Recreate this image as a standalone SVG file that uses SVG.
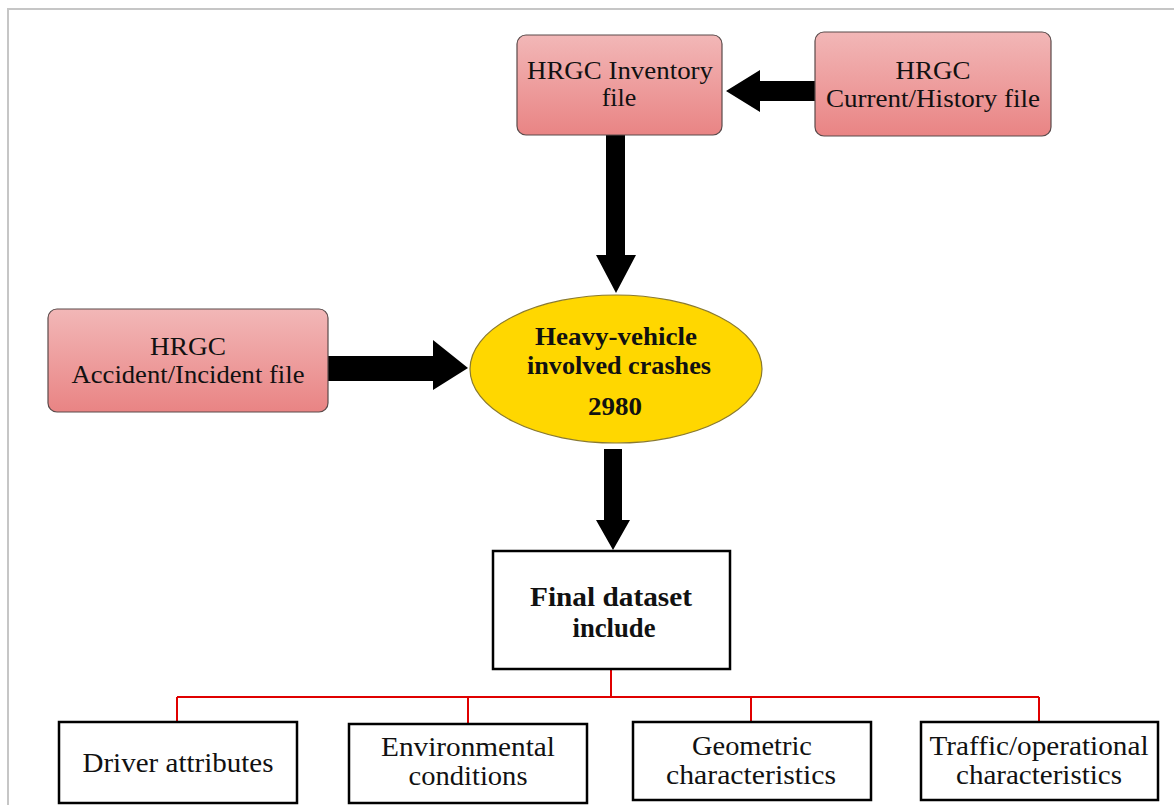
<svg xmlns="http://www.w3.org/2000/svg" width="1174" height="805" viewBox="0 0 1174 805">
<defs>
<linearGradient id="pink" x1="0" y1="0" x2="0" y2="1">
<stop offset="0" stop-color="#f2b7b7"/>
<stop offset="1" stop-color="#e98484"/>
</linearGradient>
<style>
.src{fill:url(#pink);stroke:#5a4a4a;stroke-width:1.2}
.box{fill:#fff;stroke:#000;stroke-width:2.5}
text{font-family:'Liberation Serif','DejaVu Serif',serif;font-size:26px;fill:#111;text-anchor:middle}
.b{font-weight:bold}
.s{font-size:28px}
.arr{fill:#000}
.red{stroke:#e00000;stroke-width:2;fill:none}
</style>
</defs>
<rect x="0" y="0" width="1174" height="805" fill="#fff"/>
<path d="M8 805 V9 H1174" fill="none" stroke="#c6c6c6" stroke-width="2"/>

<g id="connectors">
<path class="arr" d="M815 81 V101 H760 V112 L726 91 L760 70 V81 Z"/>
<path class="arr" d="M606 135 H625 V255 H636 L616 293 L596 255 H606 Z"/>
<path class="arr" d="M328 356 H433 V340 L468 368 L433 390 V381 H328 Z"/>
<path class="arr" d="M604 449 H622 V520 H630 L613 550 L596 520 H604 Z"/>
<path class="red" d="M611 669 V697 M177 697 H1039 M177 697 V722 M468 697 V724 M751 697 V722 M1039 697 V722"/>
</g>

<g id="inventory">
<rect class="src" x="517" y="35" width="205" height="100" rx="9"/>
<text x="620" y="79" textLength="186" lengthAdjust="spacingAndGlyphs">HRGC Inventory</text>
<text x="619" y="106">file</text>
</g>
<g id="history">
<rect class="src" x="815" y="32" width="236" height="104" rx="9"/>
<text x="933" y="79" textLength="75" lengthAdjust="spacingAndGlyphs">HRGC</text>
<text x="933" y="107" textLength="214" lengthAdjust="spacingAndGlyphs">Current/History file</text>
</g>
<g id="accident">
<rect class="src" x="48" y="309" width="280" height="103" rx="9"/>
<text x="188" y="355" textLength="76" lengthAdjust="spacingAndGlyphs">HRGC</text>
<text x="188" y="383" textLength="233" lengthAdjust="spacingAndGlyphs">Accident/Incident file</text>
</g>
<g id="crashes">
<ellipse cx="616" cy="369" rx="146" ry="74" fill="#ffd700" stroke="#8a7a30" stroke-width="1.2"/>
<text class="b" x="616" y="345" textLength="162" lengthAdjust="spacingAndGlyphs">Heavy-vehicle</text>
<text class="b" x="619" y="374" textLength="184" lengthAdjust="spacingAndGlyphs">involved crashes</text>
<text class="b" x="615" y="415" textLength="54" lengthAdjust="spacingAndGlyphs">2980</text>
</g>
<g id="final">
<rect class="box" x="493" y="551" width="237" height="118"/>
<text class="b s" x="611" y="606" textLength="162" lengthAdjust="spacingAndGlyphs">Final dataset</text>
<text class="b s" x="614" y="637" textLength="83" lengthAdjust="spacingAndGlyphs">include</text>
</g>
<g id="driver">
<rect class="box" x="59" y="722" width="238" height="81"/>
<text class="s" x="178" y="772" textLength="191" lengthAdjust="spacingAndGlyphs">Driver attributes</text>
</g>
<g id="environmental">
<rect class="box" x="349" y="724" width="238" height="79"/>
<text class="s" x="468" y="756" textLength="174" lengthAdjust="spacingAndGlyphs">Environmental</text>
<text class="s" x="468" y="785" textLength="119" lengthAdjust="spacingAndGlyphs">conditions</text>
</g>
<g id="geometric">
<rect class="box" x="633" y="722" width="238" height="78"/>
<text class="s" x="752" y="755" textLength="120" lengthAdjust="spacingAndGlyphs">Geometric</text>
<text class="s" x="751" y="784" textLength="170" lengthAdjust="spacingAndGlyphs">characteristics</text>
</g>
<g id="traffic">
<rect class="box" x="921" y="722" width="237" height="78"/>
<text class="s" x="1039" y="755" textLength="219" lengthAdjust="spacingAndGlyphs">Traffic/operational</text>
<text class="s" x="1039" y="784" textLength="166" lengthAdjust="spacingAndGlyphs">characteristics</text>
</g>
</svg>
